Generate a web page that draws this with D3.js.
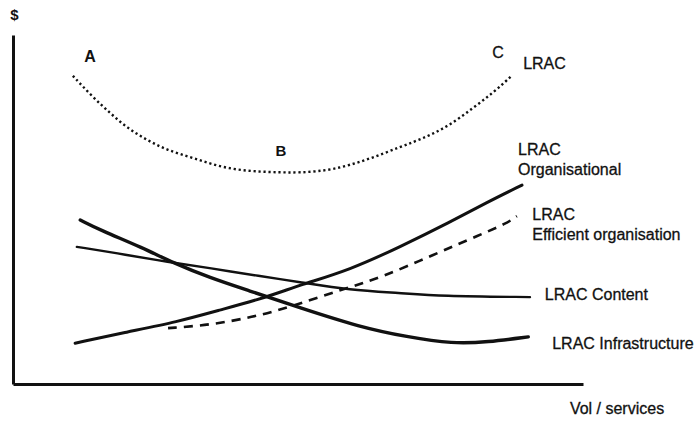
<!DOCTYPE html>
<html>
<head>
<meta charset="utf-8">
<script src="https://cdn.jsdelivr.net/npm/d3@7"></script>
<style>
  body { margin: 0; background: #fff; }
  svg { display: block; }
  text { font-family: Arial, "Liberation Sans", sans-serif; fill: #111; }
  .axis path { stroke: #111; stroke-width: 3; }
  .label { font-size: 16px; stroke: #111; stroke-width: 0.3; }
  .letter { font-weight: bold; }
</style>
</head>
<body>
<svg id="chart"></svg>
<script>
// Curve readings (volume on x, cost on y, both on a 0-100 scale)
const lracX = [10.5, 14.0, 17.0, 20.0, 23.5, 27.0, 31.6, 36.3, 41.1, 45.6, 50.4, 56.1, 62.1, 67.9, 72.6, 76.7, 80.7, 84.2, 87.5];
const lracY = [88.3, 82.2, 77.7, 73.4, 69.9, 67.0, 64.8, 62.2, 61.0, 60.7, 60.5, 61.3, 64.2, 67.9, 70.8, 74.2, 79.1, 83.4, 88.3];

const orgX = [10.9, 20.0, 28.8, 36.3, 44.6, 50.4, 59.1, 67.9, 76.7, 83.2, 89.3];
const orgY = [11.7, 14.9, 17.8, 21.2, 24.9, 28.4, 32.7, 39.3, 46.4, 52.1, 57.0];

const effX = [27.2, 34.6, 42.1, 48.1, 57.4, 64.9, 73.7, 81.9, 86.7, 88.4];
const effY = [16.0, 16.9, 19.2, 21.8, 26.9, 30.7, 37.0, 42.7, 46.1, 48.1];

const contentX = [11.2, 20.0, 27.0, 34.6, 43.3, 50.4, 59.1, 67.9, 74.9, 90.7];
const contentY = [39.3, 37.0, 35.0, 33.2, 30.9, 29.2, 26.9, 26.1, 25.2, 24.9];

const infraX = [11.8, 15.3, 22.8, 28.1, 34.6, 41.1, 50.4, 60.9, 69.1, 77.2, 83.2, 90.4];
const infraY = [47.0, 44.1, 39.0, 34.7, 30.4, 26.9, 21.8, 16.3, 13.5, 11.5, 12.0, 13.5];

// Point letters and curve names
const letters = ['A', 'B', 'C'];
const curveNames = [['LRAC'], ['LRAC', 'Organisational'], ['LRAC', 'Efficient organisation'], ['LRAC Content'], ['LRAC Infrastructure']];
const xTitle = 'Vol / services';
const yTitle = '$';

const width = 699, height = 421;

const svg = d3.select('#chart')
    .attr('width', width)
    .attr('height', height);

// Scales: plot area runs from the y axis to the end of the x axis
const x = d3.scaleLinear().domain([0, 100]).range([13, 583]);
const y = d3.scaleLinear().domain([0, 100]).range([384, 35]);

// Axes without ticks, only the lines
svg.append('g')
    .attr('class', 'axis')
    .attr('transform', `translate(${x(0)},0)`)
    .call(d3.axisLeft(y).ticks(0).tickSize(0).tickSizeOuter(0));

svg.append('g')
    .attr('class', 'axis')
    .attr('transform', `translate(0,${y(0)})`)
    .call(d3.axisBottom(x).ticks(0).tickSize(0).tickSizeOuter(0));

const line = d3.line()
    .x(d => x(d[0]))
    .y(d => y(d[1]))
    .curve(d3.curveBasis);

const series = [
  {xs: lracX, ys: lracY, w: 2.4, dash: '2.2,2.8'},
  {xs: orgX, ys: orgY, w: 3, dash: null},
  {xs: effX, ys: effY, w: 2.6, dash: '9,7'},
  {xs: contentX, ys: contentY, w: 2.4, dash: null},
  {xs: infraX, ys: infraY, w: 3.4, dash: null}
];

svg.selectAll('.curve')
  .data(series)
  .join('path')
    .attr('class', 'curve')
    .attr('fill', 'none')
    .attr('stroke', '#111')
    .attr('stroke-width', d => d.w)
    .attr('stroke-dasharray', d => d.dash)
    .attr('stroke-linecap', d => d.dash ? 'butt' : 'round')
    .attr('d', d => line(d.xs.map((v, i) => [v, d.ys[i]])));

// Letters A, B, C along the LRAC curve
const letterPos = [[13.5, 92.3], [47.0, 65.3], [85.1, 93.4]];
svg.selectAll('.letter')
  .data(letters)
  .join('text')
    .attr('class', 'letter')
    .attr('text-anchor', 'middle')
    .attr('x', (d, i) => x(letterPos[i][0]))
    .attr('y', (d, i) => y(letterPos[i][1]))
    .style('font-weight', d => d === 'C' ? 'normal' : 'bold')
    .style('font-size', d => d === 'B' ? '15px' : '16px')
    .style('stroke', d => d === 'C' ? '#111' : null)
    .style('stroke-width', d => d === 'C' ? 0.3 : null)
    .text(d => d);

// Curve names at the right ends
const namePos = [[89.5, 90.3], [88.6, 65.6], [91.1, 47.0], [93.3, 24.1], [94.6, 10.0]];
const names = svg.selectAll('.name')
  .data(curveNames)
  .join('text')
    .attr('class', 'label name')
    .attr('x', (d, i) => x(namePos[i][0]))
    .attr('y', (d, i) => y(namePos[i][1]));

names.selectAll('tspan')
  .data(d => d)
  .join('tspan')
    .attr('x', function() { return d3.select(this.parentNode).attr('x'); })
    .attr('dy', (d, i) => i === 0 ? 0 : 20)
    .text(d => d);

// Axis titles
svg.append('text')
    .attr('class', 'label')
    .attr('x', x(97.7))
    .attr('y', y(-8.6))
    .text(xTitle);

svg.append('text')
    .attr('x', x(-0.5))
    .attr('y', y(104.3))
    .style('font-size', '15px')
    .style('font-weight', 'bold')
    .text(yTitle);
</script>
</body>
</html>
